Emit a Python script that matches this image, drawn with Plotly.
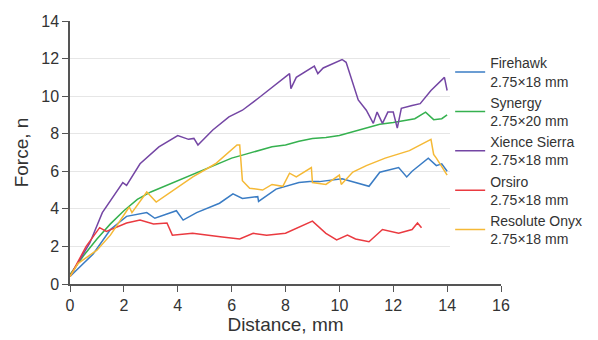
import plotly.graph_objects as go

# Firehawk 2.75x18 mm
fire_x = [0, 0.86, 1.5, 2.1, 2.85, 3.15, 3.95, 4.2, 4.7, 5.55, 6.05, 6.4, 6.97, 7.0, 7.65, 8.5, 8.9, 9.26, 10.1, 11.1, 11.5, 12.2, 12.5, 12.7, 13.3, 13.6, 13.8, 14.0]
fire_y = [0.4, 1.6, 2.9, 3.6, 3.8, 3.5, 3.9, 3.4, 3.8, 4.3, 4.8, 4.55, 4.65, 4.4, 5.05, 5.4, 5.45, 5.45, 5.6, 5.2, 5.95, 6.2, 5.7, 6.0, 6.7, 6.3, 6.4, 6.0]

# Synergy 2.75x20 mm
syn_x = [0, 0.5, 1, 1.5, 2, 2.5, 3, 3.5, 4, 4.5, 5, 5.5, 6, 6.5, 7, 7.5, 8, 8.5, 9, 9.5, 10, 10.5, 11, 11.5, 12, 12.5, 12.8, 13.2, 13.5, 13.8, 14.0]
syn_y = [0.5, 1.5, 2.4, 3.2, 3.9, 4.5, 4.9, 5.2, 5.5, 5.8, 6.1, 6.4, 6.7, 6.9, 7.1, 7.3, 7.4, 7.6, 7.75, 7.8, 7.9, 8.1, 8.3, 8.5, 8.6, 8.7, 8.8, 9.15, 8.75, 8.8, 9.0]

# Xience Sierra 2.75x18 mm
xie_x = [0, 0.74, 1.2, 1.96, 2.1, 2.6, 3.3, 4.0, 4.4, 4.6, 4.75, 5.3, 5.9, 6.4, 7.0, 8.15, 8.2, 8.4, 9.07, 9.2, 9.4, 10.1, 10.25, 10.5, 10.7, 11.0, 11.26, 11.4, 11.6, 11.8, 12.0, 12.15, 12.3, 12.7, 13.0, 13.4, 13.9, 14.0]
xie_y = [0.4, 2.2, 3.8, 5.4, 5.25, 6.4, 7.3, 7.9, 7.7, 7.75, 7.4, 8.2, 8.9, 9.25, 9.9, 11.2, 10.4, 11.0, 11.6, 11.2, 11.5, 11.95, 11.8, 10.7, 9.8, 9.25, 8.55, 9.15, 8.55, 9.15, 9.15, 8.3, 9.35, 9.5, 9.6, 10.3, 11.0, 10.3]

# Orsiro 2.75x18 mm
ors_x = [0, 0.6, 1.1, 1.35, 2.1, 2.6, 3.1, 3.6, 3.8, 4.55, 5.65, 6.3, 6.8, 7.3, 8.0, 9.0, 9.5, 9.9, 10.3, 10.6, 11.1, 11.6, 12.2, 12.7, 12.9, 13.05]
ors_y = [0.4, 2.0, 3.0, 2.8, 3.25, 3.4, 3.2, 3.25, 2.6, 2.7, 2.5, 2.4, 2.7, 2.6, 2.7, 3.35, 2.7, 2.35, 2.6, 2.4, 2.25, 2.9, 2.7, 2.9, 3.25, 3.0]

# Resolute Onyx 2.75x18 mm
res_x = [0, 0.3, 0.5, 1.0, 1.5, 2.0, 2.2, 2.3, 2.85, 3.2, 3.7, 4.56, 5.4, 6.2, 6.3, 6.4, 6.67, 7.15, 7.5, 7.9, 8.15, 8.4, 8.96, 9.0, 9.5, 10.0, 10.07, 10.5, 11.0, 11.7, 12.6, 13.4, 13.5, 13.6, 14.0]
res_y = [0.4, 1.1, 1.3, 1.8, 2.6, 3.7, 4.1, 3.8, 4.9, 4.36, 4.85, 5.7, 6.4, 7.4, 7.4, 5.5, 5.1, 5.0, 5.3, 5.2, 5.9, 5.7, 6.2, 5.4, 5.3, 5.8, 5.3, 5.96, 6.3, 6.7, 7.1, 7.7, 6.9, 6.7, 5.8]

names = ["Firehawk<br>2.75×18 mm", "Synergy<br>2.75×20 mm", "Xience Sierra<br>2.75×18 mm",
         "Orsiro<br>2.75×18 mm", "Resolute Onyx<br>2.75×18 mm"]
colors = ["#3a7cc4", "#35b14f", "#7446a4", "#ea3a40", "#f5b936"]
series = [(fire_x, fire_y), (syn_x, syn_y), (xie_x, xie_y), (ors_x, ors_y), (res_x, res_y)]

x_ticks = [0, 2, 4, 6, 8, 10, 12, 14, 16]
y_ticks = [0, 2, 4, 6, 8, 10, 12, 14]

fig = go.Figure()
for (xs, ys), n, c in zip(series, names, colors):
    fig.add_trace(go.Scatter(x=xs, y=ys, mode="lines", name=n,
                             line=dict(color=c, width=1.5)))

font_family = "Liberation Sans, Arial, sans-serif"
fig.update_layout(
    width=590, height=332,
    margin=dict(l=62, r=96, t=13, b=56),
    paper_bgcolor="white", plot_bgcolor="white",
    font=dict(family=font_family, size=16, color="#333333"),
    showlegend=True,
    legend=dict(x=0.88, xanchor="left", y=0.9, yanchor="top",
                bgcolor="white", font=dict(size=14, color="#333333"),
                tracegroupgap=0, itemwidth=30),
    xaxis=dict(range=[0, 16], tickvals=x_ticks, showgrid=False, automargin=False,
               showline=True, linecolor="#555555", linewidth=1.5,
               ticks="outside", ticklen=6, tickcolor="#555555", zeroline=False,
               title=dict(text="Distance, mm", standoff=2)),
    yaxis=dict(range=[0, 14], tickvals=y_ticks, showgrid=True, gridcolor="#e6e6e6",
               showline=True, linecolor="#555555", linewidth=1.5, automargin=False,
               ticks="outside", ticklen=6, tickcolor="#555555", zeroline=False,
               title=dict(text="Force, n", standoff=8)),
)
fig.write_html("out.html")
